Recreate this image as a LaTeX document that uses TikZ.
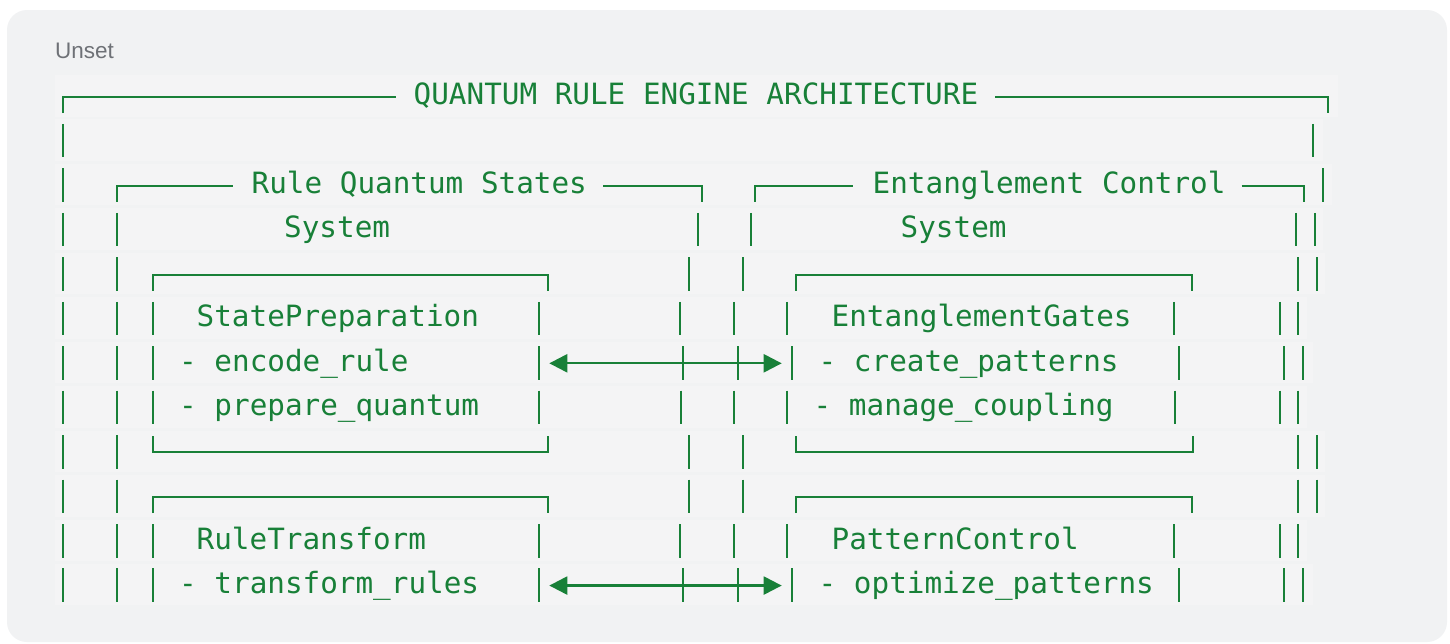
\documentclass[tikz,border=0pt]{standalone}
\usepackage{fontspec}
\setmonofont{DejaVu Sans Mono}
\newfontfamily\uifont{Liberation Sans}
\usetikzlibrary{arrows.meta}
\definecolor{codegreen}{HTML}{188038}
\definecolor{cardbg}{HTML}{F1F2F3}
\definecolor{bandbg}{HTML}{F4F4F5}
\definecolor{labelgray}{HTML}{6E7176}
% vertical bar glyphs of one row: #1 = row centre, #2 = list of x
\newcommand\rowbars[2]{\foreach \xx in {#2} {\draw[ln] (\xx,#1-16) -- (\xx,#1+17.5);}}
% top edge of a box drawn in one row
\newcommand\boxtop[3]{\draw[ln] (#2,#1+17.5) -- (#2,#1+1.5) -- (#3,#1+1.5) -- (#3,#1+17.5);}
% bottom edge of a box drawn in one row
\newcommand\boxbot[3]{\draw[ln] (#2,#1-15) -- (#2,#1+1) -- (#3,#1+1) -- (#3,#1-15);}
\begin{document}
\begin{tikzpicture}[x=1pt,y=-1pt,
  ln/.style={draw=codegreen,line width=2.3pt},
  txt/.style={anchor=base west,inner sep=0pt,text=codegreen,font=\ttfamily\fontsize{29.3}{30}\selectfont},
  band/.style={fill=bandbg,draw=none},
  link/.style={draw=codegreen,line width=2.3pt,{Triangle[length=18pt,width=18pt]}-{Triangle[length=18pt,width=18pt]}}]
\fill[white] (0,0) rectangle (1450,643);
\useasboundingbox (0,0) rectangle (1450,643);
\fill[cardbg, rounded corners=20pt] (7,10) rectangle (1447,642);
% faint line bands
\foreach \k/\e in {1/1338,2/1323,3/1332,4/1323,5/1325,6/1307,7/1313,8/1307,9/1325,10/1325,11/1307,12/1313}
  {\fill[band] (55,{95.5+(\k-1)*44.45-20.5}) rectangle (\e,{95.5+(\k-1)*44.45+21});}
\node[anchor=base west,inner sep=0pt,text=labelgray,font=\uifont\fontsize{22.5}{24}\selectfont] (lang) at (55,58) {Unset};
% row 1
\draw[ln] (63,95.5+17.5) -- (63,95.5+1.5) -- (396,95.5+1.5);
\node[txt] (title) at (413.5,104.5) {QUANTUM RULE ENGINE ARCHITECTURE};
\draw[ln] (995,95.5+1.5) -- (1328,95.5+1.5) -- (1328,95.5+17.5);
% row 2
\rowbars{139.95}{63,1313}
% row 3
\rowbars{184.4}{63,1322.7}
\draw[ln] (117,184.4+17.5) -- (117,184.4+1.5) -- (233,184.4+1.5);
\node[txt] (rqs) at (251.5,193.4) {Rule Quantum States};
\draw[ln] (603,184.4+1.5) -- (701.7,184.4+1.5) -- (701.7,184.4+17.5);
\draw[ln] (755,184.4+17.5) -- (755,184.4+1.5) -- (853,184.4+1.5);
\node[txt] (ec) at (872.5,193.4) {Entanglement Control};
\draw[ln] (1241.7,184.4+1.5) -- (1304,184.4+1.5) -- (1304,184.4+17.5);
% row 4
\rowbars{228.85}{63,117,697.7,750.7,1296,1315}
\node[txt] (sys1) at (284,237.85) {System};
\node[txt] (sys2) at (900.5,237.85) {System};
% row 5
\rowbars{273.3}{63,117,689.3,742.7,1297.7,1316.7}
\boxtop{273.3}{152.7}{548.3}
\boxtop{273.3}{796}{1191.7}
% row 6
\rowbars{317.75}{63,117,152.7,539.3,680,734.3,787.3,1174.3,1280,1298.3}
\node[txt] (sp) at (196.5,326.75) {StatePreparation};
\node[txt] (eg) at (831.5,326.75) {EntanglementGates};
% row 7
\rowbars{362.2}{63,117,152.7,539.3,683.3,737.7,791.7,1179.3,1284.3,1303.3}
\node[txt] (sp1) at (179,371.2) {- encode\_rule};
\node[txt] (eg1) at (818.5,371.2) {- create\_patterns};
\coordinate (spR) at (549.3,363.3);
\coordinate (egL) at (781.7,363.3);
\draw[link] (spR) -- (egL);
% row 8
\rowbars{406.65}{63,117,152.7,539.3,681,734.3,787.3,1175,1280,1298.3}
\node[txt] (sp2) at (179,415.65) {- prepare\_quantum};
\node[txt] (eg2) at (813.5,415.65) {- manage\_coupling};
% row 9
\rowbars{451.1}{63,117,689.3,742.7,1297.7,1316.7}
\boxbot{451.1}{152.7}{548.3}
\boxbot{451.1}{796}{1192.7}
% row 10
\rowbars{495.55}{63,117,689.3,742.7,1297.7,1316.7}
\boxtop{495.55}{152.7}{548.3}
\boxtop{495.55}{796}{1191.7}
% row 11
\rowbars{540}{63,117,152.7,539.3,680,734.3,787.3,1174.3,1280,1298.3}
\node[txt] (rt) at (196.5,549) {RuleTransform};
\node[txt] (pc) at (831.5,549) {PatternControl};
% row 12
\rowbars{584.45}{63,117,152.7,539.3,683.3,737.7,791.7,1179.3,1284.3,1303.3}
\node[txt] (rt1) at (179,593.45) {- transform\_rules};
\node[txt] (pc1) at (818.5,593.45) {- optimize\_patterns};
\coordinate (rtR) at (549.3,585.55);
\coordinate (pcL) at (781.7,585.55);
\draw[link] (rtR) -- (pcL);
\end{tikzpicture}
\end{document}
